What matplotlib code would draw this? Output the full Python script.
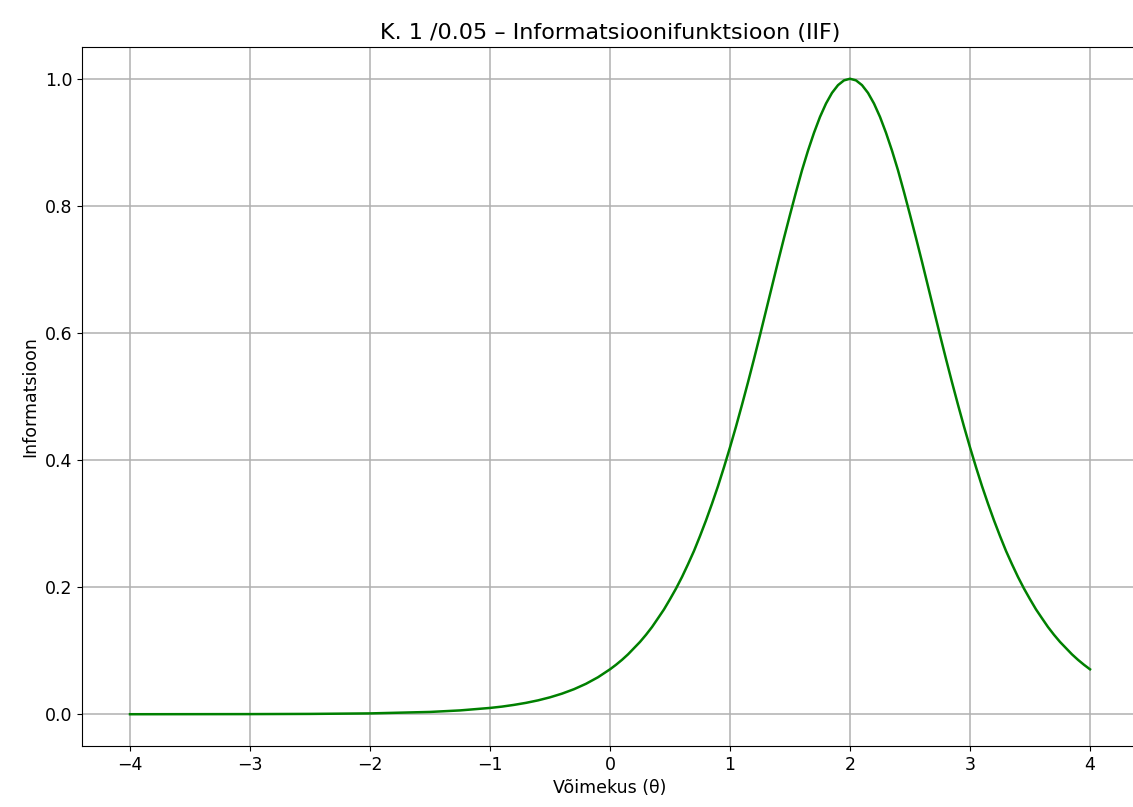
import matplotlib
matplotlib.use("Agg")
from matplotlib import pyplot as plt

# ability values (theta)
theta = [-4.0, -3.5, -3.0, -2.5, -2.0, -1.5, -1.25,
         -1.0, -0.9, -0.8, -0.7, -0.6, -0.5, -0.4, -0.3, -0.2, -0.1,
         0.0, 0.05, 0.1, 0.15, 0.2, 0.25, 0.3, 0.35, 0.4, 0.45,
         0.5, 0.55, 0.6, 0.65, 0.7, 0.75, 0.8, 0.85, 0.9, 0.95,
         1.0, 1.05, 1.1, 1.15, 1.2, 1.25, 1.3, 1.35, 1.4, 1.45,
         1.5, 1.55, 1.6, 1.65, 1.7, 1.75, 1.8, 1.85, 1.9, 1.95,
         2.0, 2.05, 2.1, 2.15, 2.2, 2.25, 2.3, 2.35, 2.4, 2.45,
         2.5, 2.55, 2.6, 2.65, 2.7, 2.75, 2.8, 2.85, 2.9, 2.95,
         3.0, 3.05, 3.1, 3.15, 3.2, 3.25, 3.3, 3.35, 3.4, 3.45,
         3.5, 3.55, 3.6, 3.65, 3.7, 3.75, 3.8, 3.85, 3.9, 3.95, 4.0]
# item information at those points
info = [0.0000, 0.0001, 0.0002, 0.0005, 0.0013, 0.0036, 0.0060,
        0.0099, 0.0120, 0.0147, 0.0179, 0.0218, 0.0266, 0.0324, 0.0394, 0.0479, 0.0582,
        0.0707, 0.0778, 0.0856, 0.0942, 0.104, 0.1138, 0.125, 0.1372, 0.151, 0.165,
        0.181, 0.1977, 0.216, 0.236, 0.257, 0.2804, 0.305, 0.3313, 0.359, 0.3888,
        0.420, 0.4527, 0.487, 0.5224, 0.559, 0.5966, 0.635, 0.6735, 0.712, 0.7495,
        0.786, 0.8217, 0.856, 0.8869, 0.915, 0.940, 0.961, 0.9778, 0.990, 0.9975,
        1.000, 0.9975, 0.990, 0.9778, 0.961, 0.940, 0.915, 0.8869, 0.856, 0.8217,
        0.786, 0.7495, 0.712, 0.6735, 0.635, 0.5966, 0.559, 0.5224, 0.487, 0.4527,
        0.420, 0.3888, 0.359, 0.3313, 0.305, 0.2804, 0.257, 0.236, 0.216, 0.1977,
        0.181, 0.165, 0.151, 0.1372, 0.125, 0.1138, 0.104, 0.0942, 0.0856, 0.0778, 0.0707]

title = "K. 1 /0.05 – Informatsioonifunktsioon (IIF)"

plt.rcParams['font.size'] = 12.5

fig = plt.figure(figsize=(11.33, 8.07), dpi=100)
# axes runs a little past the right edge, like the cropped original
ax = fig.add_axes([82 / 1133, 61 / 807, 1056 / 1133, 699 / 807])
ax.plot(theta, info, color='green', linewidth=1.8)
ax.set_title(title, fontsize=16)
ax.set_xlabel('Võimekus (θ)')
ax.set_ylabel('Informatsioon')
ax.grid(True, linewidth=1.1)

fig.savefig('out.png', dpi=100)
